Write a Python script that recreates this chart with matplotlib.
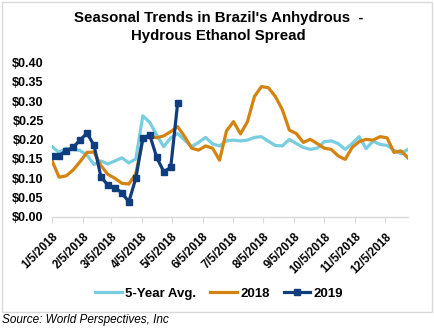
import matplotlib
matplotlib.use("Agg")
import matplotlib.pyplot as plt
import pandas as pd
from matplotlib.patches import Rectangle

plt.rcParams['font.family'] = ['Liberation Sans', 'DejaVu Sans']

# Weekly observation dates (seasonal axis anchored on 2018)
weeks = pd.date_range('2018-01-05', periods=52, freq='7D')

avg5 = [0.182, 0.167, 0.178, 0.175, 0.172, 0.160, 0.136, 0.145, 0.137, 0.145,
        0.153, 0.140, 0.150, 0.262, 0.245, 0.212, 0.182, 0.205, 0.216, 0.199,
        0.182, 0.193, 0.206, 0.189, 0.184, 0.197, 0.199, 0.197, 0.199, 0.206,
        0.208, 0.196, 0.185, 0.184, 0.201, 0.190, 0.180, 0.175, 0.178, 0.195,
        0.197, 0.190, 0.175, 0.190, 0.208, 0.177, 0.196, 0.188, 0.185, 0.173,
        0.164, 0.175]

y2018 = [0.145, 0.103, 0.106, 0.121, 0.143, 0.167, 0.168, 0.133, 0.110, 0.100,
         0.087, 0.085, 0.112, 0.199, 0.210, 0.205, 0.210, 0.221, 0.234, 0.208,
         0.178, 0.173, 0.184, 0.178, 0.147, 0.223, 0.247, 0.215, 0.247, 0.312,
         0.338, 0.335, 0.312, 0.278, 0.225, 0.216, 0.193, 0.201, 0.190, 0.178,
         0.175, 0.158, 0.149, 0.180, 0.195, 0.201, 0.199, 0.208, 0.205, 0.167,
         0.171, 0.153]

y2019 = [0.157, 0.159, 0.171, 0.180, 0.199, 0.217, 0.186, 0.104, 0.082, 0.076,
         0.062, 0.039, 0.100, 0.204, 0.212, 0.154, 0.117, 0.128, 0.296]

tick_labels = ['1/5/2018', '2/5/2018', '3/5/2018', '4/5/2018', '5/5/2018', '6/5/2018',
               '7/5/2018', '8/5/2018', '9/5/2018', '10/5/2018', '11/5/2018', '12/5/2018']
tick_dates = pd.to_datetime(tick_labels, format='%m/%d/%Y')
y_ticks = [0.00, 0.05, 0.10, 0.15, 0.20, 0.25, 0.30, 0.35, 0.40]

c_avg = '#78CDE0'
c_2018 = '#D4830F'
c_2019 = '#103D7E'

fig = plt.figure(figsize=(4.34, 3.28), dpi=100)
ax = fig.add_axes([0.12, 0.339, 0.82, 0.47])

ax.plot(weeks, avg5, color=c_avg, lw=2.3, label='5-Year Avg.', solid_joinstyle='round')
ax.plot(weeks, y2018, color=c_2018, lw=2.3, label='2018', solid_joinstyle='round')
ax.plot(weeks[:len(y2019)], y2019, color=c_2019, lw=2.3, marker='s', markersize=5,
        label='2019', solid_joinstyle='round')

ax.set_xlim(weeks[0], weeks[-1])
ax.set_ylim(0, 0.40)
ax.set_yticks(y_ticks)
ax.set_yticklabels([f'${v:.2f}' for v in y_ticks], fontsize=9, fontweight='bold')
ax.set_xticks(tick_dates)
ax.set_xticklabels(tick_labels, rotation=45, ha='right', rotation_mode='anchor',
                   fontsize=8.3, fontweight='bold')

for s in ['top', 'right', 'left']:
    ax.spines[s].set_visible(False)
ax.spines['bottom'].set_color('#D9D9D9')
ax.spines['bottom'].set_linewidth(1.0)
ax.tick_params(axis='y', length=0, pad=6)
ax.tick_params(axis='x', length=4, color='#D9D9D9', pad=6, direction='out')

fig.text(0.503, 0.918, "Seasonal Trends in Brazil's Anhydrous  -\nHydrous Ethanol Spread",
         ha='center', va='center', fontsize=10.8, fontweight='bold', linespacing=1.3)

leg = fig.legend(loc='center', bbox_to_anchor=(0.505, 0.104), ncol=3, frameon=False,
                 prop={'weight': 'bold', 'size': 9.5}, handlelength=2.0,
                 columnspacing=1.1, handletextpad=0.25)

fig.patches.append(Rectangle((1.5 / 434, 1 - 312 / 328), 430.5 / 434, 310 / 328,
                             transform=fig.transFigure, fill=False,
                             edgecolor='#D9D9D9', lw=1.0))

fig.text(0.005, 0.025, 'Source: World Perspectives, Inc', fontsize=8.5, style='italic',
         ha='left', va='center')

fig.savefig('out.png', dpi=100)
